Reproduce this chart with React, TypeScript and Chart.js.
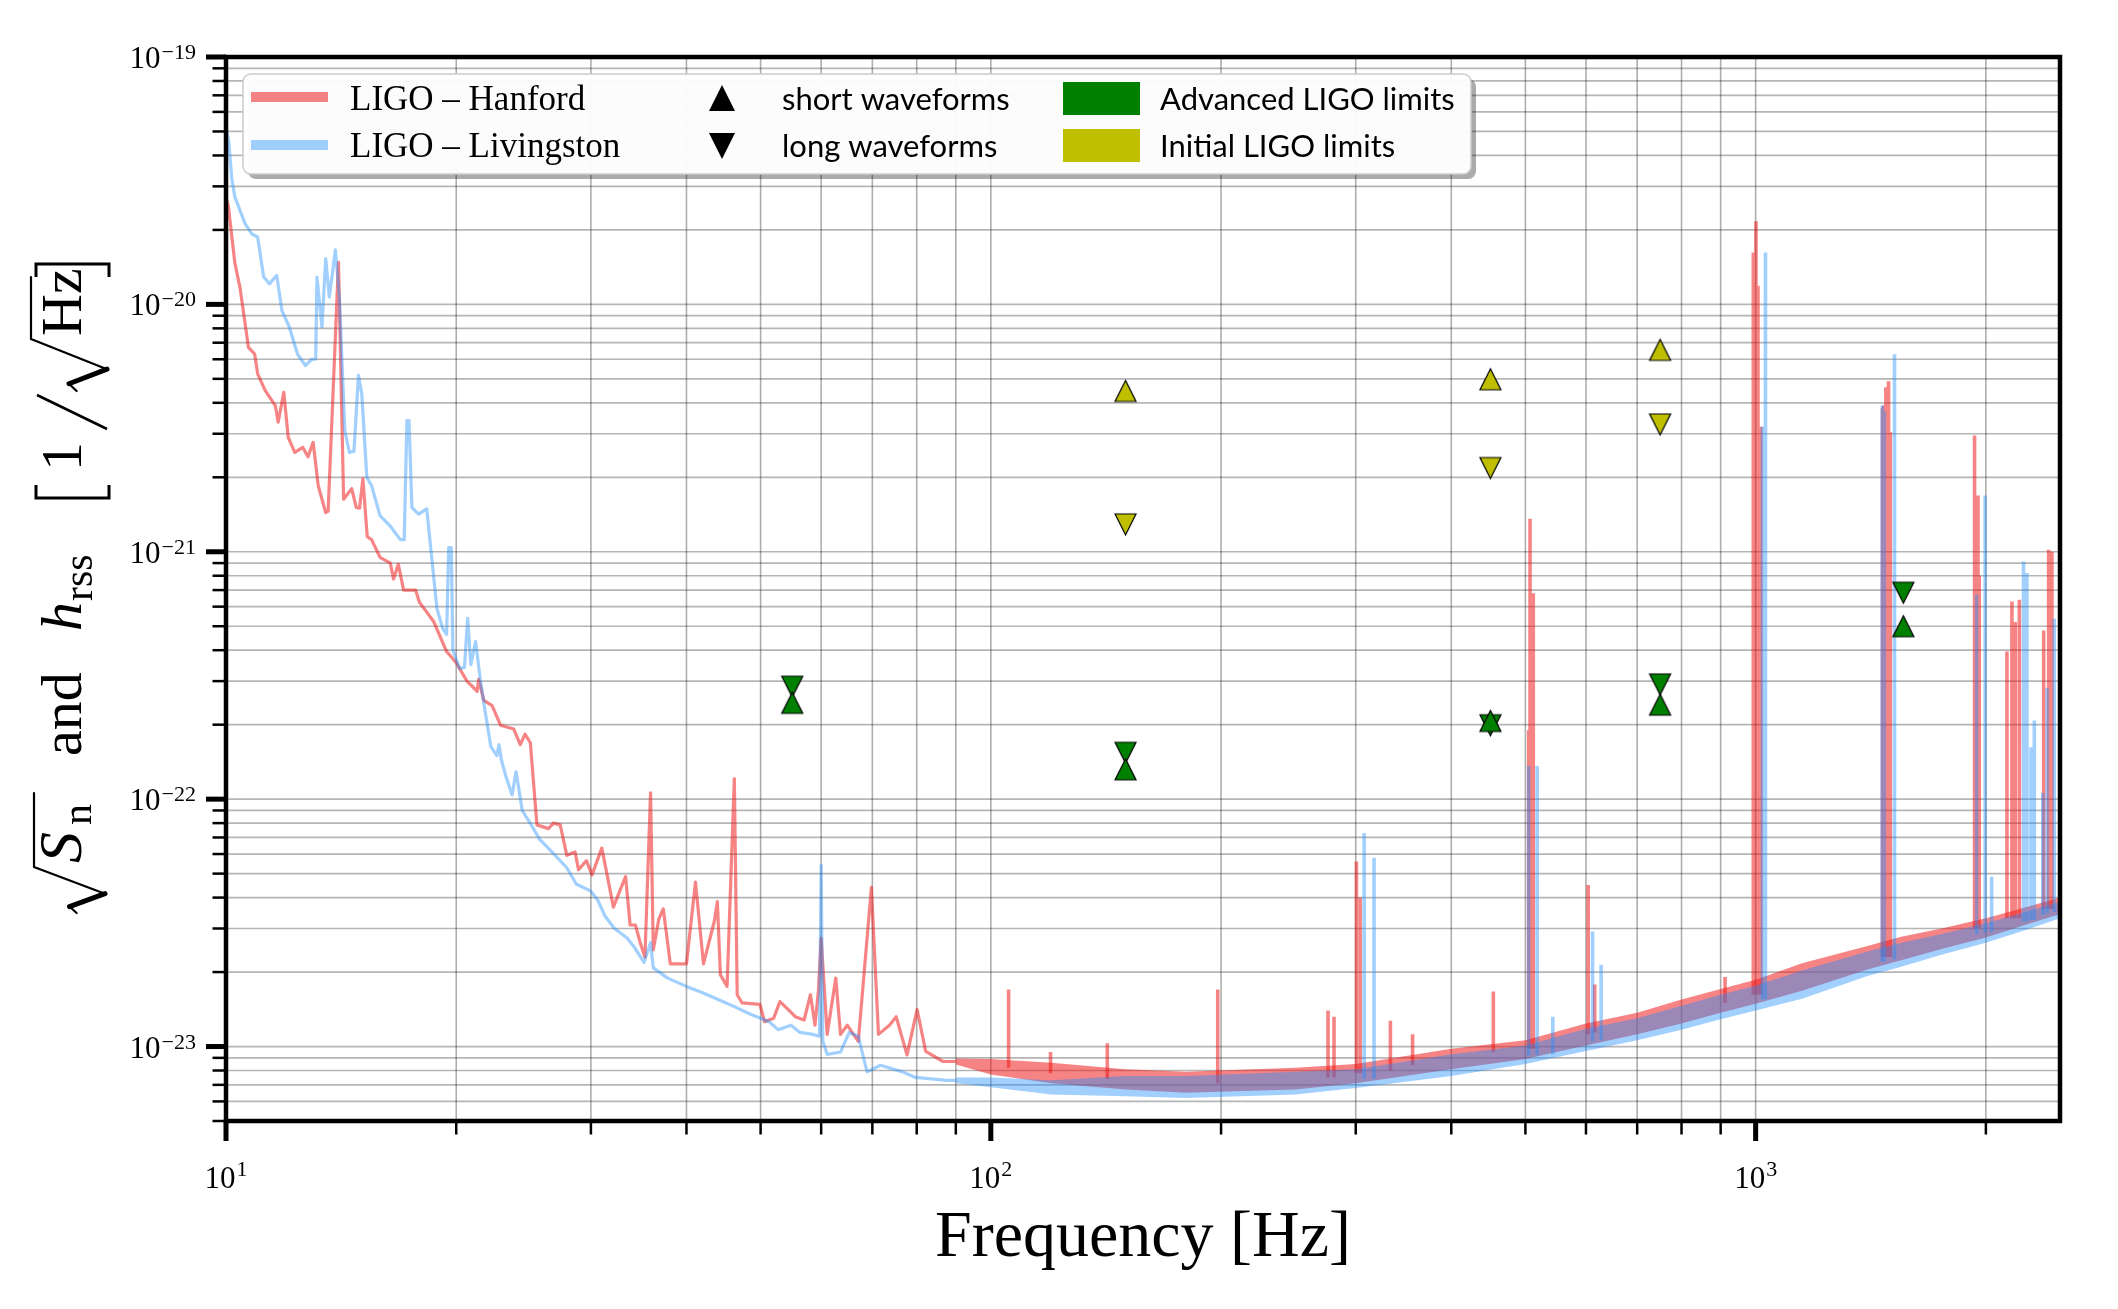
import React, { useEffect, useRef } from 'react';
import { Chart, registerables } from 'chart.js';

Chart.register(...registerables);

const CANVAS_W = 2118;
const CANVAS_H = 1309;

const X_MIN = 10;
const X_MAX = 2500;
const Y_MIN = 5e-24;
const Y_MAX = 1e-19;

// Hanford amplitude spectral density, low-frequency trace [Hz], [1/sqrt(Hz)]
const hanfordHz = [
  10, 10.07, 10.27, 10.43, 10.7, 10.9, 11.0, 11.25, 11.6, 11.7, 11.9, 12.06, 12.3, 12.6, 12.8, 13.0,
  13.2, 13.5, 13.6, 14.03, 14.25, 14.6, 14.8, 14.95, 15.1, 15.3, 15.5, 15.9, 16.4, 16.56, 16.8, 17.07,
  17.7, 17.9, 18.3, 18.7, 19.43, 20.0, 20.64, 21.3, 21.4, 21.73, 22.28, 22.85, 23.78, 24.25, 24.6, 25.0,
  25.5, 26.4, 26.8, 27.35, 27.9, 28.6, 28.9, 29.6, 30.1, 31.0, 31.5, 32.1, 32.8, 33.3, 33.76, 34.3,
  34.8, 35.3, 35.9, 36.2, 36.8, 37.3, 38.1, 40.0, 41.1, 42.1, 43.5, 43.9, 44.3, 45.2, 46.2, 46.6,
  47.3, 49.9, 50.6, 52.0, 53.0, 54.1, 55.5, 57.0, 58.1, 58.9, 59.5, 60.0, 61.1, 62.7, 63.6, 64.9,
  67.1, 69.8, 71.3, 73.7, 75.2, 77.7, 80.1, 82.2, 86.6, 90.0,
];
const hanfordAsd = [
  2.7e-20, 2.5e-20, 1.47e-20, 1.17e-20, 6.7e-21, 6.3e-21, 5.24e-21, 4.49e-21, 3.9e-21, 3.34e-21, 4.41e-21, 2.9e-21, 2.52e-21, 2.64e-21, 2.42e-21, 2.77e-21,
  1.85e-21, 1.44e-21, 1.46e-21, 1.48e-20, 1.63e-21, 1.8e-21, 1.51e-21, 1.5e-21, 1.97e-21, 1.15e-21, 1.12e-21, 9.5e-22, 9.0e-22, 7.76e-22, 8.9e-22, 7.0e-22,
  7.0e-22, 6.25e-22, 5.7e-22, 5.2e-22, 3.95e-22, 3.56e-22, 3.01e-22, 2.73e-22, 3.05e-22, 2.51e-22, 2.39e-22, 1.99e-22, 1.92e-22, 1.66e-22, 1.83e-22, 1.69e-22,
  7.87e-23, 7.6e-23, 8.0e-23, 7.87e-23, 5.93e-23, 6.12e-23, 5.19e-23, 5.64e-23, 4.94e-23, 6.34e-23, 4.94e-23, 3.66e-23, 4.33e-23, 4.86e-23, 3.1e-23, 3.1e-23,
  2.63e-23, 2.3e-23, 1.06e-22, 2.46e-23, 3.27e-23, 3.6e-23, 2.16e-23, 2.16e-23, 4.62e-23, 2.16e-23, 3.21e-23, 3.85e-23, 1.95e-23, 1.75e-23, 1.21e-22, 1.62e-23,
  1.5e-23, 1.48e-23, 1.26e-23, 1.3e-23, 1.52e-23, 1.43e-23, 1.32e-23, 1.28e-23, 1.62e-23, 1.22e-23, 1.67e-23, 2.74e-23, 1.12e-23, 1.89e-23, 1.12e-23, 1.22e-23,
  1.05e-23, 4.4e-23, 1.12e-23, 1.22e-23, 1.32e-23, 9.25e-24, 1.41e-23, 9.55e-24, 8.7e-24, 8.7e-24,
];

// Livingston amplitude spectral density, low-frequency trace
const livingstonHz = [
  10, 10.08, 10.18, 10.27, 10.59, 10.8, 11.0, 11.2, 11.4, 11.65, 11.83, 12.1, 12.4, 12.7, 12.95, 13.1,
  13.15, 13.35, 13.5, 13.65, 13.9, 14.07, 14.3, 14.5, 14.7, 14.9, 15.05, 15.28, 15.5, 15.9, 16.4, 16.9,
  17.1, 17.24, 17.35, 17.5, 17.86, 18.3, 18.87, 19.2, 19.43, 19.55, 19.7, 19.8, 20.2, 20.5, 20.7, 20.9,
  21.2, 21.5, 21.85, 22.2, 22.6, 22.75, 22.9, 23.2, 23.66, 23.95, 24.4, 25.0, 25.7, 26.8, 27.9, 28.7,
  29.95, 30.6, 31.3, 32.2, 33.4, 34.1, 35.2, 35.9, 36.2, 37.8, 40.0, 42.0, 44.0, 46.2, 48.5, 51.3,
  52.7, 54.8, 56.3, 58.5, 59.7, 60.0, 60.3, 61.1, 63.6, 65.3, 67.1, 68.9, 71.7, 76.7, 79.7, 87.6, 90.0,
];
const livingstonAsd = [
  5.1e-20, 4.6e-20, 3.18e-20, 2.72e-20, 2.12e-20, 1.93e-20, 1.87e-20, 1.29e-20, 1.21e-20, 1.31e-20, 9.46e-21, 8.1e-21, 6.3e-21, 5.66e-21, 6.0e-21, 6.0e-21,
  1.29e-20, 8.1e-21, 1.53e-20, 1.07e-20, 1.66e-20, 1.07e-20, 3.09e-21, 2.52e-21, 2.55e-21, 5.16e-21, 4.35e-21, 2.0e-21, 1.85e-21, 1.4e-21, 1.27e-21, 1.12e-21,
  1.12e-21, 3.39e-21, 3.39e-21, 1.51e-21, 1.42e-21, 1.49e-21, 5.9e-22, 4.9e-22, 4.63e-22, 1.04e-21, 1.04e-21, 4.0e-22, 3.38e-22, 3.4e-22, 5.38e-22, 3.5e-22,
  4.34e-22, 3.06e-22, 2.2e-22, 1.63e-22, 1.5e-22, 1.66e-22, 1.45e-22, 1.25e-22, 1.04e-22, 1.29e-22, 8.98e-23, 7.98e-23, 6.89e-23, 6.03e-23, 5.28e-23, 4.54e-23,
  4.26e-23, 3.92e-23, 3.37e-23, 3.0e-23, 2.76e-23, 2.55e-23, 2.19e-23, 2.63e-23, 2.08e-23, 1.89e-23, 1.75e-23, 1.65e-23, 1.55e-23, 1.45e-23, 1.35e-23, 1.26e-23,
  1.17e-23, 1.22e-23, 1.14e-23, 1.12e-23, 1.1e-23, 5.4e-23, 1.05e-23, 9.3e-24, 9.5e-24, 1.14e-23, 1.1e-23, 7.9e-24, 8.4e-24, 7.9e-24, 7.5e-24, 7.3e-24, 7.3e-24,
];

// Spread of the dense noise floor above 90 Hz (upper / lower envelopes)
const floorHz = [90, 100, 120, 150, 180, 250, 300, 400, 500, 600, 700, 800, 900, 1000, 1150, 1400, 1550, 1750, 2000, 2250, 2500];
const hanfordFloorHigh = [8.95e-24, 8.9e-24, 8.6e-24, 8.1e-24, 7.9e-24, 8.2e-24, 8.5e-24, 9.8e-24, 1.06e-23, 1.24e-23, 1.37e-23, 1.55e-23, 1.71e-23, 1.86e-23, 2.17e-23, 2.55e-23, 2.78e-23, 3.0e-23, 3.3e-23, 3.65e-23, 4.0e-23];
const hanfordFloorLow = [8.45e-24, 7.7e-24, 7.1e-24, 6.7e-24, 6.5e-24, 6.7e-24, 7.1e-24, 8.1e-24, 8.9e-24, 1.01e-23, 1.12e-23, 1.24e-23, 1.37e-23, 1.49e-23, 1.68e-23, 2.05e-23, 2.23e-23, 2.48e-23, 2.76e-23, 3.1e-23, 3.43e-23];
const livingstonFloorHigh = [7.5e-24, 7.5e-24, 7.3e-24, 7.6e-24, 7.6e-24, 7.9e-24, 8.1e-24, 9.3e-24, 1.01e-23, 1.18e-23, 1.3e-23, 1.46e-23, 1.62e-23, 1.76e-23, 2.03e-23, 2.42e-23, 2.63e-23, 2.85e-23, 3.15e-23, 3.5e-23, 3.85e-23];
const livingstonFloorLow = [7.1e-24, 6.85e-24, 6.4e-24, 6.3e-24, 6.2e-24, 6.4e-24, 6.8e-24, 7.6e-24, 8.5e-24, 9.6e-24, 1.06e-23, 1.17e-23, 1.29e-23, 1.4e-23, 1.56e-23, 1.93e-23, 2.1e-23, 2.35e-23, 2.63e-23, 2.95e-23, 3.3e-23];

// Narrow spectral lines rising out of the floor: frequency, peak, floor level
const hanfordLineHz = [105.5, 119.7, 142, 198, 276, 281, 300.6, 304, 333, 356, 454, 505, 507, 512, 604, 616, 912, 993, 1001, 1007, 1016, 1465, 1470, 1480, 1492, 1500, 1933, 1953, 1960, 2131, 2163, 2185, 2212, 2380, 2416, 2440];
const hanfordLinePeak = [1.7e-23, 9.5e-24, 1.03e-23, 1.7e-23, 1.4e-23, 1.32e-23, 5.6e-23, 4.0e-23, 1.27e-23, 1.12e-23, 1.67e-23, 1.9e-22, 1.36e-21, 6.8e-22, 4.5e-23, 1.78e-23, 1.91e-23, 1.62e-20, 2.17e-20, 1.19e-20, 3.2e-21, 3.8e-21, 3.9e-21, 4.62e-21, 4.89e-21, 3.04e-21, 2.95e-21, 1.69e-21, 8.0e-22, 3.95e-22, 6.3e-22, 5.2e-22, 6.4e-22, 4.8e-22, 1.02e-21, 1.0e-21];
const hanfordLineFloor = [8.2e-24, 7.8e-24, 7.4e-24, 7.1e-24, 7.5e-24, 7.5e-24, 7.8e-24, 7.8e-24, 8.0e-24, 8.4e-24, 9.5e-24, 9.8e-24, 9.8e-24, 9.8e-24, 1.12e-23, 1.14e-23, 1.5e-23, 1.62e-23, 1.62e-23, 1.62e-23, 1.62e-23, 2.3e-23, 2.3e-23, 2.3e-23, 2.3e-23, 2.3e-23, 3.0e-23, 3.0e-23, 3.0e-23, 3.3e-23, 3.3e-23, 3.3e-23, 3.3e-23, 3.6e-23, 3.6e-23, 3.6e-23];

const livingstonLineHz = [307.7, 317, 505, 518, 543, 612, 628, 1021, 1030, 1464, 1473, 1519, 1945, 1996, 2035, 2240, 2263, 2291, 2314, 2374, 2405, 2457];
const livingstonLinePeak = [7.3e-23, 5.8e-23, 1.36e-22, 1.36e-22, 1.32e-23, 2.92e-23, 2.14e-23, 3.2e-21, 1.62e-20, 3.9e-21, 3.7e-21, 6.28e-21, 6.7e-22, 1.69e-21, 4.86e-23, 9.14e-22, 8.2e-22, 1.62e-22, 2.08e-22, 1.06e-22, 2.82e-22, 5.37e-22];
const livingstonLineFloor = [7.4e-24, 7.4e-24, 9.2e-24, 9.2e-24, 9.3e-24, 1.05e-23, 1.06e-23, 1.55e-23, 1.55e-23, 2.2e-23, 2.2e-23, 2.25e-23, 2.85e-23, 2.9e-23, 2.9e-23, 3.2e-23, 3.2e-23, 3.25e-23, 3.25e-23, 3.4e-23, 3.45e-23, 3.5e-23];

// Burst search h_rss limits
const limitHz = [55, 150, 450, 750, 1560];
const advancedShort = [2.45e-22, 1.32e-22, 2.07e-22, 2.41e-22, 5.0e-22];
const advancedLong = [2.85e-22, 1.54e-22, 1.99e-22, 2.91e-22, 6.83e-22];
const initialShort = [null, 4.47e-21, 4.98e-21, 6.55e-21, null];
const initialLong = [null, 1.29e-21, 2.18e-21, 3.27e-21, null];

// Axis ticks
const xDecades = [10, 100, 1000];
const xMajorLabels = ['1', '2', '3'];
const yDecades = [1e-24, 1e-23, 1e-22, 1e-21, 1e-20, 1e-19];
const yMajorTicks = [1e-23, 1e-22, 1e-21, 1e-20, 1e-19];
const yMajorLabels = ['\u221223', '\u221222', '\u221221', '\u221220', '\u221219'];
const minorMultiples = [2, 3, 4, 5, 6, 7, 8, 9];

const HANFORD = 'rgba(240, 20, 20, 0.52)';
const LIVINGSTON = 'rgba(30, 144, 255, 0.42)';
const ADVANCED = '#008000';
const INITIAL = '#bfbf00';

const SERIF = '"Liberation Serif", "DejaVu Serif", serif';
const SANS = 'Lato, "Noto Sans", sans-serif';

type Pt = { x: number; y: number | null };

const trace = (hz: number[], v: (number | null)[]): Pt[] => hz.map((x, i) => ({ x, y: v[i] }));

const spikes = (hz: number[], peak: number[], floor: number[]): Pt[] => {
  const out: Pt[] = [];
  hz.forEach((x, i) => {
    out.push({ x, y: floor[i] }, { x, y: peak[i] }, { x, y: floor[i] }, { x, y: null });
  });
  return out;
};

function triangle(dir: 'up' | 'down', fill: string, size: number, edge: number): HTMLCanvasElement {
  const pad = 2;
  const c = document.createElement('canvas');
  c.width = size + 2 * pad;
  c.height = size + 2 * pad;
  const g = c.getContext('2d')!;
  const l = pad, r = pad + size, t = pad, b = pad + size, m = pad + size / 2;
  g.beginPath();
  if (dir === 'up') {
    g.moveTo(m, t); g.lineTo(r, b); g.lineTo(l, b);
  } else {
    g.moveTo(l, t); g.lineTo(r, t); g.lineTo(m, b);
  }
  g.closePath();
  g.fillStyle = fill;
  g.fill();
  if (edge > 0) {
    g.lineWidth = edge;
    g.strokeStyle = '#000';
    g.stroke();
  }
  return c;
}

function gridValues(decades: number[], lo: number, hi: number) {
  const major: number[] = [];
  const minor: number[] = [];
  decades.forEach((d) => {
    if (d >= lo * 0.999 && d <= hi * 1.001) major.push(d);
    minorMultiples.forEach((k) => {
      const v = d * k;
      if (v >= lo * 0.999 && v <= hi * 1.001) minor.push(v);
    });
  });
  return { major, minor };
}

// radical sign drawn in the rotated title frame (t along text, s across, negative = up)
function radical(ctx: CanvasRenderingContext2D, t0: number, w: number, top: number, bottom: number, bar: number) {
  const h = bottom - top;
  ctx.lineCap = 'round';
  ctx.lineJoin = 'miter';
  ctx.lineWidth = 2.2;
  ctx.beginPath();
  ctx.moveTo(t0, top + 0.6 * h);
  ctx.lineTo(t0 + 0.14 * w, top + 0.5 * h);
  ctx.stroke();
  ctx.lineWidth = 5;
  ctx.beginPath();
  ctx.moveTo(t0 + 0.14 * w, top + 0.5 * h);
  ctx.lineTo(t0 + 0.42 * w, bottom);
  ctx.stroke();
  ctx.lineWidth = 2.2;
  ctx.beginPath();
  ctx.moveTo(t0 + 0.42 * w, bottom);
  ctx.lineTo(t0 + w, top);
  ctx.lineTo(t0 + w + bar, top);
  ctx.stroke();
}

function bracket(ctx: CanvasRenderingContext2D, t: number, top: number, bottom: number, dir: 1 | -1) {
  ctx.lineWidth = 3;
  ctx.lineCap = 'butt';
  ctx.lineJoin = 'miter';
  ctx.beginPath();
  ctx.moveTo(t + dir * 13, top);
  ctx.lineTo(t, top);
  ctx.lineTo(t, bottom);
  ctx.lineTo(t + dir * 13, bottom);
  ctx.stroke();
}

const gridPlugin = {
  id: 'logGrid',
  beforeDatasetsDraw(chart: any) {
    const { ctx, chartArea: a, scales } = chart;
    const xs = scales.x, ys = scales.y;
    ctx.save();
    ctx.beginPath();
    ctx.rect(a.left, a.top, a.right - a.left, a.bottom - a.top);
    ctx.clip();
    const yg = gridValues(yDecades, Y_MIN, Y_MAX);
    ctx.strokeStyle = 'rgba(0, 0, 0, 0.29)';
    ctx.lineWidth = 1.7;
    [...yg.major, ...yg.minor].forEach((v) => {
      const py = ys.getPixelForValue(v);
      ctx.beginPath();
      ctx.moveTo(a.left, py);
      ctx.lineTo(a.right, py);
      ctx.stroke();
    });
    const xg = gridValues(xDecades, X_MIN, X_MAX);
    ctx.strokeStyle = 'rgba(0, 0, 0, 0.32)';
    ctx.lineWidth = 1.6;
    [...xg.major, ...xg.minor].forEach((v) => {
      const px = xs.getPixelForValue(v);
      ctx.beginPath();
      ctx.moveTo(px, a.top);
      ctx.lineTo(px, a.bottom);
      ctx.stroke();
    });
    ctx.restore();
  },
};

function makeDecorPlugin(legendUp: HTMLCanvasElement, legendDown: HTMLCanvasElement) {
  return {
    id: 'decor',
    afterDatasetsDraw(chart: any) {
      const { ctx, chartArea: a, scales } = chart;
      const xs = scales.x, ys = scales.y;
      ctx.save();

      // frame
      ctx.strokeStyle = '#000';
      ctx.lineWidth = 4.5;
      ctx.strokeRect(a.left, a.top, a.right - a.left, a.bottom - a.top);

      // ticks
      ctx.fillStyle = '#000';
      const yg = gridValues(yDecades, Y_MIN, Y_MAX);
      yg.major.forEach((v) => {
        const py = ys.getPixelForValue(v);
        ctx.fillRect(a.left - 20, py - 2.5, 20, 5);
      });
      yg.minor.forEach((v) => {
        const py = ys.getPixelForValue(v);
        ctx.fillRect(a.left - 13.5, py - 1.25, 13.5, 2.5);
      });
      const xg = gridValues(xDecades, X_MIN, X_MAX);
      xg.major.forEach((v) => {
        const px = xs.getPixelForValue(v);
        ctx.fillRect(px - 2.5, a.bottom, 5, 20);
      });
      xg.minor.forEach((v) => {
        const px = xs.getPixelForValue(v);
        ctx.fillRect(px - 1.25, a.bottom, 2.5, 13.5);
      });

      // tick labels
      ctx.textBaseline = 'alphabetic';
      yMajorTicks.forEach((v, i) => {
        const py = ys.getPixelForValue(v);
        const right = a.left - 30;
        ctx.font = `22px ${SERIF}`;
        const supW = ctx.measureText(yMajorLabels[i]).width;
        ctx.textAlign = 'left';
        ctx.fillText(yMajorLabels[i], right - supW, py + 2);
        ctx.font = `31px ${SERIF}`;
        ctx.textAlign = 'right';
        ctx.fillText('10', right - supW - 1, py + 11);
      });
      xDecades.forEach((v, i) => {
        const px = xs.getPixelForValue(v);
        ctx.font = `31px ${SERIF}`;
        const w10 = ctx.measureText('10').width;
        ctx.font = `22px ${SERIF}`;
        const ws = ctx.measureText(xMajorLabels[i]).width;
        const start = px - (w10 + ws + 1) / 2;
        ctx.textAlign = 'left';
        ctx.font = `31px ${SERIF}`;
        ctx.fillText('10', start, a.bottom + 67);
        ctx.font = `22px ${SERIF}`;
        ctx.fillText(xMajorLabels[i], start + w10 + 1, a.bottom + 55);
      });

      // x title
      ctx.font = `66px ${SERIF}`;
      ctx.textAlign = 'center';
      ctx.fillText('Frequency [Hz]', (a.left + a.right) / 2, 1256);

      // y title, rotated
      ctx.save();
      ctx.translate(81, 913);
      ctx.rotate(-Math.PI / 2);
      ctx.textAlign = 'left';
      ctx.fillStyle = '#000';
      ctx.strokeStyle = '#000';
      radical(ctx, 0, 46, -47, 24, 74);
      ctx.font = `italic 62px ${SERIF}`;
      ctx.fillText('S', 50, 0);
      ctx.font = `42px ${SERIF}`;
      ctx.fillText('n', 88, 10);
      ctx.font = `58px ${SERIF}`;
      ctx.fillText('and', 157, 0);
      ctx.font = `italic 58px ${SERIF}`;
      ctx.fillText('h', 282, 0);
      ctx.font = `42px ${SERIF}`;
      ctx.fillText('rss', 312, 11);
      bracket(ctx, 415, -45, 28, 1);
      ctx.font = `58px ${SERIF}`;
      ctx.fillText('1', 442, 0);
      ctx.lineWidth = 2.6;
      ctx.lineCap = 'butt';
      ctx.beginPath();
      ctx.moveTo(484, 26);
      ctx.lineTo(518, -44);
      ctx.stroke();
      radical(ctx, 522, 52, -50, 26, 62);
      ctx.font = `58px ${SERIF}`;
      ctx.fillText('Hz', 577, 0);
      bracket(ctx, 649, -45, 28, -1);
      ctx.restore();

      // legend
      const bx = 243, by = 74, bw = 1228, bh = 100;
      ctx.fillStyle = 'rgba(0, 0, 0, 0.33)';
      ctx.beginPath();
      ctx.roundRect(bx + 5, by + 5, bw, bh, 8);
      ctx.fill();
      ctx.fillStyle = 'rgba(255, 255, 255, 0.96)';
      ctx.beginPath();
      ctx.roundRect(bx, by, bw, bh, 8);
      ctx.fill();
      ctx.strokeStyle = '#cccccc';
      ctx.lineWidth = 1.5;
      ctx.stroke();

      ctx.lineCap = 'butt';
      ctx.lineWidth = 10;
      ctx.strokeStyle = HANFORD;
      ctx.beginPath();
      ctx.moveTo(251, 97);
      ctx.lineTo(328, 97);
      ctx.stroke();
      ctx.strokeStyle = LIVINGSTON;
      ctx.beginPath();
      ctx.moveTo(251, 145);
      ctx.lineTo(328, 145);
      ctx.stroke();

      ctx.fillStyle = '#000';
      ctx.textAlign = 'left';
      ctx.font = `35px ${SERIF}`;
      ctx.fillText('LIGO \u2013 Hanford', 350, 110);
      ctx.fillText('LIGO \u2013 Livingston', 350, 157);

      ctx.drawImage(legendUp, 722 - legendUp.width / 2, 98 - legendUp.height / 2);
      ctx.drawImage(legendDown, 722 - legendDown.width / 2, 146 - legendDown.height / 2);
      ctx.font = `31px ${SANS}`;
      ctx.fillText('short waveforms', 782, 110);
      ctx.fillText('long waveforms', 782, 157);

      ctx.fillStyle = ADVANCED;
      ctx.fillRect(1063, 82, 77, 33);
      ctx.fillStyle = INITIAL;
      ctx.fillRect(1063, 129, 77, 33);
      ctx.fillStyle = '#000';
      ctx.fillText('Advanced LIGO limits', 1160, 110);
      ctx.fillText('Initial LIGO limits', 1160, 157);

      ctx.restore();
    },
  };
}

export default function App() {
  const ref = useRef<HTMLCanvasElement>(null);

  useEffect(() => {
    document.body.style.margin = '0';
    document.body.style.overflow = 'hidden';
    const canvas = ref.current;
    if (!canvas) return;

    const advUp = triangle('up', ADVANCED, 21, 1.2);
    const advDown = triangle('down', ADVANCED, 21, 1.2);
    const iniUp = triangle('up', INITIAL, 21, 1.2);
    const iniDown = triangle('down', INITIAL, 21, 1.2);
    const legendUp = triangle('up', '#000', 26, 0);
    const legendDown = triangle('down', '#000', 26, 0);

    const lineBase = { pointRadius: 0, borderWidth: 3.2, borderJoinStyle: 'round' as const, fill: false, tension: 0 };
    const spikeBase = { pointRadius: 0, borderWidth: 3.6, borderJoinStyle: 'miter' as const, fill: false, tension: 0 };
    const bandBase = { pointRadius: 0, borderWidth: 0, borderColor: 'transparent', tension: 0 };
    const markerBase = { showLine: false, pointRadius: 10, pointHoverRadius: 10 };

    const chart = new Chart(canvas, {
      type: 'line',
      data: {
        datasets: [
          { ...lineBase, label: 'LIGO Hanford', data: trace(hanfordHz, hanfordAsd), borderColor: HANFORD, order: 2 },
          { ...bandBase, label: 'Hanford floor low', data: trace(floorHz, hanfordFloorLow), fill: false, order: 2 },
          { ...bandBase, label: 'Hanford floor high', data: trace(floorHz, hanfordFloorHigh), fill: '-1', backgroundColor: HANFORD, order: 2 },
          { ...spikeBase, label: 'Hanford lines', data: spikes(hanfordLineHz, hanfordLinePeak, hanfordLineFloor), borderColor: HANFORD, order: 2 },
          { ...lineBase, label: 'LIGO Livingston', data: trace(livingstonHz, livingstonAsd), borderColor: LIVINGSTON, order: 1 },
          { ...bandBase, label: 'Livingston floor low', data: trace(floorHz, livingstonFloorLow), fill: false, order: 1 },
          { ...bandBase, label: 'Livingston floor high', data: trace(floorHz, livingstonFloorHigh), fill: '-1', backgroundColor: LIVINGSTON, order: 1 },
          { ...spikeBase, label: 'Livingston lines', data: spikes(livingstonLineHz, livingstonLinePeak, livingstonLineFloor), borderColor: LIVINGSTON, order: 1 },
          { ...markerBase, label: 'Initial short', data: trace(limitHz, initialShort), pointStyle: iniUp, order: 0 },
          { ...markerBase, label: 'Initial long', data: trace(limitHz, initialLong), pointStyle: iniDown, order: 0 },
          { ...markerBase, label: 'Advanced short', data: trace(limitHz, advancedShort), pointStyle: advUp, order: 0 },
          { ...markerBase, label: 'Advanced long', data: trace(limitHz, advancedLong), pointStyle: advDown, order: 0 },
        ] as any,
      },
      options: {
        responsive: false,
        animation: false,
        devicePixelRatio: 1,
        events: [],
        layout: { padding: { left: 226, right: 58, top: 57, bottom: 188 } },
        scales: {
          x: { type: 'logarithmic', min: X_MIN, max: X_MAX, display: false },
          y: { type: 'logarithmic', min: Y_MIN, max: Y_MAX, display: false },
        },
        plugins: {
          legend: { display: false },
          tooltip: { enabled: false },
        },
      },
      plugins: [gridPlugin, makeDecorPlugin(legendUp, legendDown)],
    });

    return () => chart.destroy();
  }, []);

  return <canvas ref={ref} width={CANVAS_W} height={CANVAS_H} style={{ display: 'block' }} />;
}
